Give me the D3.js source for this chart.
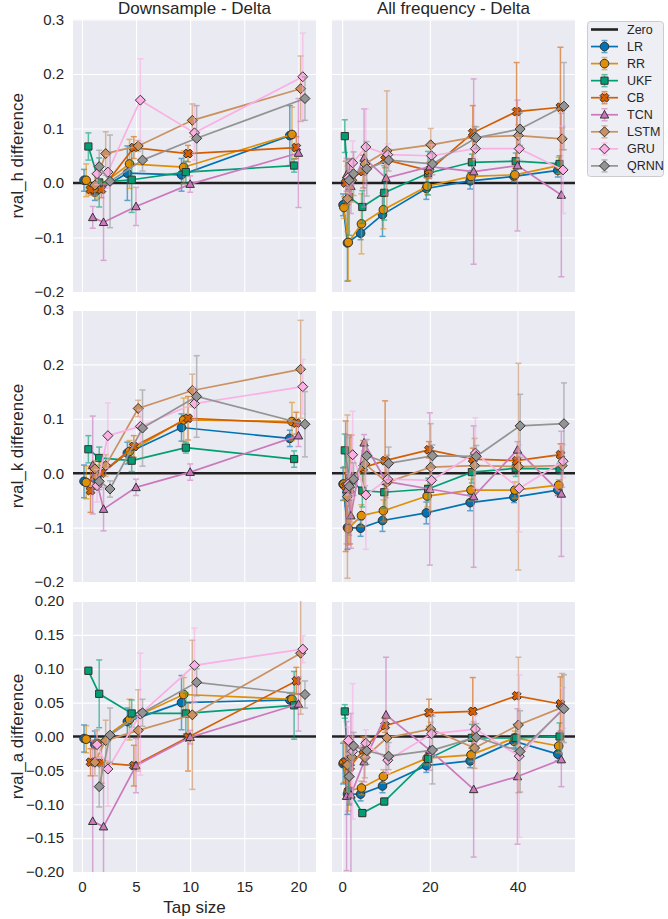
<!DOCTYPE html>
<html><head><meta charset="utf-8">
<script src="https://cdn.jsdelivr.net/npm/d3@7"></script>
<style>body{margin:0;background:#fff;} text{font-family:"Liberation Sans",Arial,sans-serif;fill:#262626;}</style>
</head><body><svg id="c" width="668" height="919"></svg>
<script>
const models = ["LR","RR","UKF","CB","TCN","LSTM","GRU","QRNN"];
const colors = ["#0173b2","#de8f05","#029e73","#d55e00","#cc78bc","#ca9161","#fbafe4","#949494"];
const markers = ["circle","circle","square","x","triangle","diamond","diamond","diamond"];
const dodge = [-0.8,-0.6,-0.4,-0.2,0,0.2,0.4,0.6];
const tapsDown = [1,2,5,10,20];
const tapsAll = [1,2,5,10,20,30,40,50];
const rowLabels = ["rval_h difference","rval_k difference","rval_a difference"];
const colTitles = ["Downsample - Delta","All frequency - Delta"];
const yTicksHK = [-0.2,-0.1,0,0.1,0.2,0.3];
const yTicksA = [-0.2,-0.15,-0.1,-0.05,0,0.05,0.1,0.15,0.2];
const xTicksDown = [0,5,10,15,20];
const xTicksAll = [0,20,40];

const hDown = [
 [0.005,-0.017,0.018,0.015,0.087],
 [0.005,-0.01,0.035,0.029,0.089],
 [0.067,0.001,0.006,0.02,0.032],
 [-0.012,-0.012,0.065,0.054,0.065],
 [-0.063,-0.072,-0.043,-0.002,0.055],
 [-0.004,0.054,0.068,0.115,0.173],
 [0.017,0.02,0.152,0.092,0.195],
 [0.03,0.003,0.042,0.082,0.155]];
const hDownErr = [
 [0.02,0.015,0.05,0.03,0.055],
 [0.03,0.02,0.045,0.03,0.05],
 [0.025,0.045,0.06,0.02,0.012],
 [0.01,0.015,0.02,0.015,0.02],
 [0.02,0.07,0.035,0.015,0.1],
 [0.02,0.04,0.01,0.03,0.06],
 [0.02,0.03,0.076,0.05,0.08],
 [0.03,0.085,0.02,0.06,0.04]];
const hAll = [
 [-0.04,-0.11,-0.092,-0.058,-0.01,0.004,0.012,0.023],
 [-0.045,-0.109,-0.075,-0.049,-0.006,0.012,0.015,0.032],
 [0.086,-0.026,-0.044,-0.018,0.018,0.038,0.04,0.035],
 [0.0,0.008,0.021,0.043,0.023,0.092,0.131,0.139],
 [0.015,-0.006,0.046,0.009,0.03,0.021,0.032,-0.022],
 [-0.029,0.005,0.035,0.059,0.07,0.084,0.087,0.081],
 [0.01,0.037,0.066,0.052,0.05,0.063,0.063,0.024],
 [0.005,0.017,0.026,0.042,0.035,0.083,0.099,0.141]];
const hAllErr = [
 [0.02,0.07,0.012,0.04,0.02,0.015,0.01,0.012],
 [0.02,0.07,0.055,0.035,0.015,0.01,0.012,0.015],
 [0.03,0.07,0.03,0.05,0.04,0.015,0.015,0.015],
 [0.04,0.03,0.03,0.015,0.015,0.05,0.09,0.11],
 [0.03,0.05,0.09,0.03,0.02,0.17,0.12,0.15],
 [0.06,0.04,0.03,0.11,0.03,0.02,0.02,0.02],
 [0.03,0.04,0.07,0.02,0.02,0.02,0.02,0.08],
 [0.02,0.04,0.05,0.02,0.02,0.02,0.03,0.08]];
const kDown = [
 [-0.015,-0.01,0.037,0.084,0.064],
 [-0.017,-0.005,0.04,0.098,0.095],
 [0.044,0.028,0.023,0.047,0.026],
 [-0.032,0.0,0.049,0.101,0.092],
 [0.015,-0.066,-0.026,0.002,0.069],
 [0.008,0.014,0.119,0.152,0.191],
 [-0.023,0.069,0.086,0.128,0.159],
 [-0.015,-0.029,0.083,0.141,0.09]];
const kDownErr = [
 [0.03,0.02,0.02,0.025,0.015],
 [0.03,0.02,0.02,0.04,0.035],
 [0.025,0.02,0.02,0.01,0.015],
 [0.04,0.02,0.02,0.04,0.02],
 [0.09,0.04,0.015,0.015,0.02],
 [0.015,0.02,0.015,0.03,0.09],
 [0.03,0.06,0.03,0.03,0.05],
 [0.015,0.015,0.07,0.075,0.06]];
const kAll = [
 [-0.02,-0.1,-0.101,-0.087,-0.073,-0.054,-0.044,-0.031],
 [-0.02,-0.102,-0.078,-0.069,-0.042,-0.031,-0.031,-0.022],
 [0.042,-0.01,-0.032,-0.035,-0.029,0.002,0.009,0.008],
 [-0.024,-0.03,0.01,0.023,0.043,0.026,0.023,0.034],
 [-0.03,-0.078,0.056,-0.015,-0.029,-0.043,0.043,-0.038],
 [-0.043,-0.01,0.017,-0.017,0.011,0.014,0.012,0.014],
 [-0.02,0.034,-0.04,-0.011,-0.013,0.037,-0.028,0.022],
 [-0.024,-0.011,0.032,0.018,0.032,0.031,0.087,0.091]];
const kAllErr = [
 [0.03,0.04,0.015,0.02,0.02,0.015,0.01,0.01],
 [0.03,0.03,0.02,0.02,0.02,0.02,0.015,0.01],
 [0.03,0.04,0.03,0.03,0.02,0.02,0.015,0.01],
 [0.12,0.1,0.05,0.11,0.015,0.02,0.015,0.02],
 [0.1,0.06,0.015,0.03,0.14,0.13,0.015,0.115],
 [0.15,0.08,0.04,0.05,0.08,0.05,0.19,0.04],
 [0.02,0.08,0.1,0.02,0.02,0.065,0.08,0.03],
 [0.09,0.03,0.03,0.03,0.02,0.02,0.058,0.075]];
const aDown = [
 [-0.003,-0.012,0.022,0.05,0.054],
 [-0.004,-0.01,0.025,0.062,0.055],
 [0.097,0.063,0.034,0.034,0.046],
 [-0.038,-0.039,-0.043,-0.001,0.082],
 [-0.125,-0.133,-0.043,-0.001,0.048],
 [-0.038,-0.006,0.009,0.032,0.123],
 [-0.012,-0.048,0.033,0.105,0.129],
 [-0.074,0.002,0.035,0.08,0.062]];
const aDownErr = [
 [0.02,0.02,0.02,0.04,0.01],
 [0.02,0.02,0.03,0.025,0.01],
 [0.005,0.05,0.02,0.03,0.05],
 [0.02,0.03,0.03,0.05,0.02],
 [0.12,0.09,0.04,0.01,0.04],
 [0.02,0.03,0.06,0.11,0.09],
 [0.02,0.055,0.09,0.055,0.02],
 [0.03,0.04,0.02,0.02,0.02]];
const aAll = [
 [-0.04,-0.085,-0.085,-0.073,-0.043,-0.036,-0.007,-0.026],
 [-0.038,-0.08,-0.076,-0.059,-0.032,-0.027,-0.002,-0.014],
 [0.037,-0.081,-0.113,-0.096,-0.033,-0.002,-0.002,0.0],
 [-0.038,-0.045,-0.02,0.016,0.035,0.037,0.06,0.048],
 [-0.088,-0.086,-0.037,0.032,-0.02,-0.078,-0.059,-0.034],
 [-0.042,-0.03,-0.031,-0.002,0.011,-0.017,0.017,0.043],
 [-0.006,-0.022,-0.01,-0.035,0.004,0.011,-0.029,0.042],
 [-0.059,-0.014,-0.021,-0.029,-0.02,-0.001,-0.022,0.041]];
const aAllErr = [
 [0.03,0.03,0.01,0.01,0.01,0.01,0.01,0.01],
 [0.03,0.03,0.01,0.01,0.01,0.01,0.01,0.01],
 [0.01,0.02,0.005,0.005,0.01,0.02,0.02,0.02],
 [0.03,0.03,0.02,0.01,0.02,0.05,0.005,0.04],
 [0.11,0.12,0.03,0.085,0.03,0.1,0.1,0.04],
 [0.04,0.03,0.03,0.03,0.01,0.03,0.1,0.05],
 [0.02,0.1,0.02,0.02,0.03,0.02,0.12,0.03],
 [0.04,0.02,0.02,0.02,0.05,0.02,0.06,0.05]];

const panelData = [
 [[hDown,hDownErr],[hAll,hAllErr]],
 [[kDown,kDownErr],[kAll,kAllErr]],
 [[aDown,aDownErr],[aAll,aAllErr]]];

const svg = d3.select("#c");
const colX = [[73,316],[332,575]];
const rowY = [[19.5,292],[310,582],[601,872]];
const xDomains = [[-0.82,21.62],[-2.32,53.12]];
const yDomains = [[-0.2,0.3],[-0.2,0.3],[-0.2,0.2]];
const taps = [tapsDown, tapsAll];
const xTicks = [xTicksDown, xTicksAll];
const yTicks = [yTicksHK, yTicksHK, yTicksA];
const yFmt = [d3.format(".1f"), d3.format(".1f"), d3.format(".2f")];

function markerPath(type){
  if(type==="diamond") return "M0,-5L5,0L0,5L-5,0Z";
  if(type==="triangle") return "M0,-4.3L4.2,3.3L-4.2,3.3Z";
  if(type==="square") return "M-3.6,-3.6H3.6V3.6H-3.6Z";
  if(type==="x"){
    const a=1.7,L=4.6; const pts=[[a,a],[a,L],[-a,L],[-a,a],[-L,a],[-L,-a],[-a,-a],[-a,-L],[a,-L],[a,-a],[L,-a],[L,a]];
    const c=Math.SQRT1_2;
    return "M"+pts.map(p=>[(p[0]-p[1])*c,(p[0]+p[1])*c].map(v=>v.toFixed(2)).join(",")).join("L")+"Z";
  }
  return null;
}
function drawMarker(g, type, color, x, y){
  if(type==="circle"){
    g.append("circle").attr("cx",x).attr("cy",y).attr("r",4.3)
     .attr("fill",color).attr("stroke","#333").attr("stroke-width",1);
  } else {
    g.append("path").attr("d",markerPath(type)).attr("transform",`translate(${x},${y})`)
     .attr("fill",color).attr("stroke","#333").attr("stroke-width",1);
  }
}

rowY.forEach((ry,r)=>{
  colX.forEach((cx,c)=>{
    const x = d3.scaleLinear().domain(xDomains[c]).range(cx);
    const y = d3.scaleLinear().domain(yDomains[r]).range([ry[1],ry[0]]);
    const g = svg.append("g");
    const cid = `clip${r}${c}`;
    g.append("clipPath").attr("id",cid).append("rect")
      .attr("x",cx[0]).attr("y",ry[0]).attr("width",cx[1]-cx[0]).attr("height",ry[1]-ry[0]);
    g.append("rect").attr("x",cx[0]).attr("y",ry[0]).attr("width",cx[1]-cx[0]).attr("height",ry[1]-ry[0]).attr("fill","#eaeaf2");
    // y axis / grid
    const ya = g.append("g").attr("transform",`translate(${cx[0]},0)`)
      .call(d3.axisLeft(y).tickValues(yTicks[r]).tickSizeInner(-(cx[1]-cx[0])).tickSizeOuter(0).tickPadding(9).tickFormat(yFmt[r]));
    ya.select(".domain").remove();
    ya.selectAll("line").attr("stroke","#fff").attr("stroke-width",1.1);
    ya.selectAll("text").attr("font-size",15).attr("fill","#262626").style("font-family","'Liberation Sans',Arial,sans-serif");
    if(c===1) ya.selectAll("text").remove();
    const xa = g.append("g").attr("transform",`translate(0,${ry[1]})`)
      .call(d3.axisBottom(x).tickValues(xTicks[c]).tickSizeInner(-(ry[1]-ry[0])).tickSizeOuter(0).tickPadding(9).tickFormat(d3.format("d")));
    xa.select(".domain").remove();
    xa.selectAll("line").attr("stroke","#fff").attr("stroke-width",1.1);
    xa.selectAll("text").attr("font-size",15).attr("fill","#262626").style("font-family","'Liberation Sans',Arial,sans-serif");
    if(r!==2) xa.selectAll("text").remove();

    const pg = g.append("g").attr("clip-path",`url(#${cid})`);
    pg.append("line").attr("x1",cx[0]).attr("x2",cx[1]).attr("y1",y(0)).attr("y2",y(0))
      .attr("stroke","#222").attr("stroke-width",2.6);
    const [vals, errs] = panelData[r][c];
    models.forEach((m,i)=>{
      const pts = taps[c].map((t,j)=>({x:x(t+dodge[i]), y:y(vals[i][j]), lo:y(vals[i][j]-errs[i][j]), hi:y(vals[i][j]+errs[i][j])}));
      const eg = pg.append("g").attr("stroke",colors[i]).attr("stroke-width",1.5).attr("opacity",0.6);
      pts.forEach(p=>{
        eg.append("line").attr("x1",p.x).attr("x2",p.x).attr("y1",p.lo).attr("y2",p.hi);
        eg.append("line").attr("x1",p.x-3).attr("x2",p.x+3).attr("y1",p.lo).attr("y2",p.lo);
        eg.append("line").attr("x1",p.x-3).attr("x2",p.x+3).attr("y1",p.hi).attr("y2",p.hi);
      });
      pg.append("path").attr("d",d3.line().x(d=>d.x).y(d=>d.y)(pts))
        .attr("fill","none").attr("stroke",colors[i]).attr("stroke-width",1.7);
      pts.forEach(p=>drawMarker(pg, markers[i], colors[i], p.x, p.y));
    });
    if(r===0){
      g.append("text").attr("x",(cx[0]+cx[1])/2).attr("y",14).attr("text-anchor","middle")
        .attr("font-size",17).text(colTitles[c]);
    }
  });
  svg.append("text").attr("transform",`translate(23,${(ry[0]+ry[1])/2}) rotate(-90)`)
    .attr("text-anchor","middle").attr("font-size",17).text(rowLabels[r]);
});
svg.append("text").attr("x",(colX[0][0]+colX[0][1])/2).attr("y",913).attr("text-anchor","middle")
  .attr("font-size",17).text("Tap size");

// legend
const lg = svg.append("g");
lg.append("rect").attr("x",587.5).attr("y",21.5).attr("width",76).attr("height",155).attr("rx",3)
  .attr("fill","#eaeaf2").attr("fill-opacity",0.8).attr("stroke","#cccccc").attr("stroke-width",1);
const ly = i => 29.5 + 17.05*i;
lg.append("line").attr("x1",591).attr("x2",618).attr("y1",ly(0)).attr("y2",ly(0)).attr("stroke","#222").attr("stroke-width",2.6);
lg.append("text").attr("x",627).attr("y",ly(0)+4.5).attr("font-size",12.5).text("Zero");
models.forEach((m,i)=>{
  const yy = ly(i+1);
  lg.append("g").attr("stroke",colors[i]).attr("stroke-width",1.5).attr("opacity",0.6)
    .call(gg=>{
      gg.append("line").attr("x1",604.5).attr("x2",604.5).attr("y1",yy-6).attr("y2",yy+6);
      gg.append("line").attr("x1",601.5).attr("x2",607.5).attr("y1",yy-6).attr("y2",yy-6);
      gg.append("line").attr("x1",601.5).attr("x2",607.5).attr("y1",yy+6).attr("y2",yy+6);
    });
  lg.append("line").attr("x1",591).attr("x2",618).attr("y1",yy).attr("y2",yy).attr("stroke",colors[i]).attr("stroke-width",1.7);
  drawMarker(lg, markers[i], colors[i], 604.5, yy);
  lg.append("text").attr("x",627).attr("y",yy+4.5).attr("font-size",12.5).text(m);
});
</script></body></html>
